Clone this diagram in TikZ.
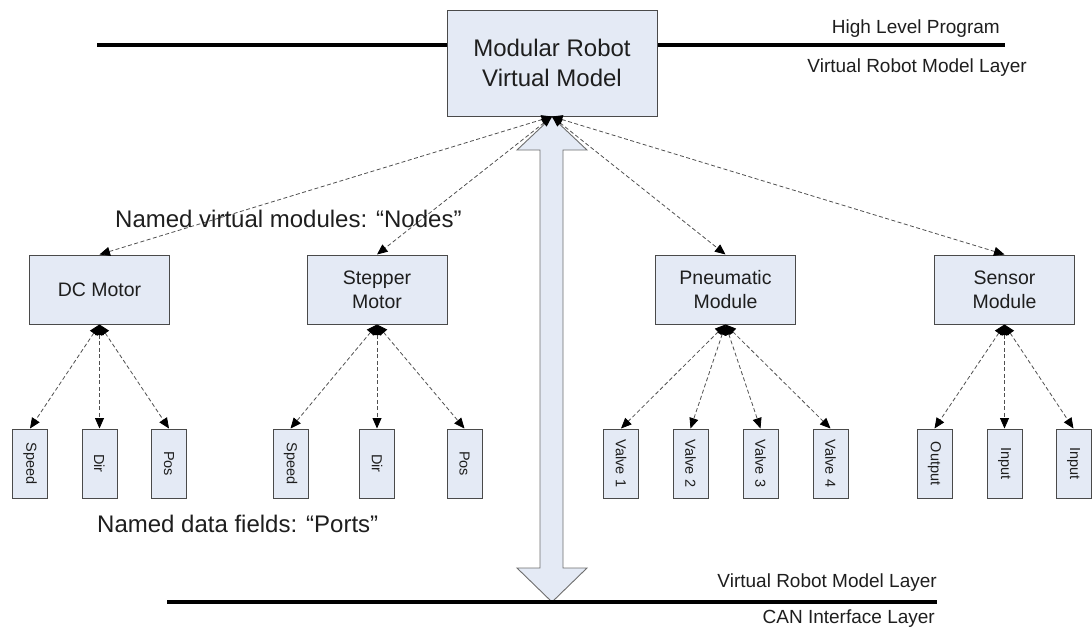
\documentclass[tikz,border=0pt]{standalone}
\usepackage{fontspec}
\setmainfont{Liberation Sans}
\usetikzlibrary{arrows.meta}
\definecolor{boxfill}{HTML}{E4EAF5}
\definecolor{boxline}{HTML}{4A4A4A}
\definecolor{dashline}{HTML}{505050}
\definecolor{txt}{HTML}{1E1E1E}
\begin{document}
\begin{tikzpicture}[x=1pt,y=-1pt,
  every node/.style={text=txt},
  topbox/.style={draw=boxline, line width=1pt, fill=boxfill, minimum width=210pt, minimum height=106pt, align=center, inner sep=0pt, font=\fontsize{24}{30}\selectfont},
  mbox/.style={draw=boxline, line width=1pt, fill=boxfill, minimum width=140pt, minimum height=69pt, align=center, inner sep=0pt, font=\fontsize{19.5}{24}\selectfont},
  pbox/.style={draw=boxline, line width=1pt, fill=boxfill, minimum width=35pt, minimum height=69pt, inner sep=0pt, font=\fontsize{14.5}{16}\selectfont},
  link/.style={draw=dashline, line width=0.8pt, dash pattern=on 4pt off 2.5pt,
    arrows={Triangle[length=10.5pt,width=9pt,color=black]-Triangle[length=10.5pt,width=9pt,color=black]}},
  layerline/.style={line width=4pt, black},
  lab/.style={font=\fontsize{19}{22}\selectfont, anchor=base east, inner sep=0pt},
  biglab/.style={font=\fontsize{24}{28}\selectfont, anchor=base west, inner sep=0pt}]
\useasboundingbox (0,0) rectangle (1092,633);

% layer lines
\coordinate (tl) at (97,45);
\coordinate (tr) at (1005,45);
\draw[layerline] (tl) -- (tr);
\coordinate (bl) at (167,602);
\coordinate (br) at (937,602);

% big double arrow
\draw[draw=boxline!80, fill=boxfill, line width=0.9pt]
  (552,117) -- (587,150) -- (563,150) -- (563,568) -- (587,568) -- (552,602)
  -- (517,568) -- (540,568) -- (540,150) -- (517,150) -- cycle;
\draw[line width=3.5pt, black] (bl) -- (br);

% top box
\node[topbox] (top) at (552,63) {Modular Robot\\Virtual Model};

% modules
\node[mbox] (dc)   at (99.5,289.5)  {DC Motor};
\node[mbox] (step) at (377,289.5)   {Stepper\\Motor};
\node[mbox] (pneu) at (725.5,289.5) {Pneumatic\\Module};
\node[mbox] (sens) at (1004.5,289.5){Sensor\\Module};

% ports
\node[pbox] (dc1) at (30,463.5)   {\rotatebox{-90}{Speed}};
\node[pbox] (dc2) at (99.5,463.5) {\rotatebox{-90}{Dir}};
\node[pbox] (dc3) at (169,463.5)  {\rotatebox{-90}{Pos}};
\node[pbox] (st1) at (290.5,463.5){\rotatebox{-90}{Speed}};
\node[pbox] (st2) at (377,463.5)  {\rotatebox{-90}{Dir}};
\node[pbox] (st3) at (464.5,463.5){\rotatebox{-90}{Pos}};
\node[pbox] (pn1) at (621,463.5)  {\rotatebox{-90}{Valve 1}};
\node[pbox] (pn2) at (690.5,463.5){\rotatebox{-90}{Valve 2}};
\node[pbox] (pn3) at (760.5,463.5){\rotatebox{-90}{Valve 3}};
\node[pbox] (pn4) at (830.5,463.5){\rotatebox{-90}{Valve 4}};
\node[pbox] (se1) at (934.5,463.5){\rotatebox{-90}{Output}};
\node[pbox] (se2) at (1004.5,463.5){\rotatebox{-90}{Input}};
\node[pbox] (se3) at (1073.5,463.5){\rotatebox{-90}{Input}};

% connectors
\foreach \m in {dc,step,pneu,sens} \draw[link] (top.south) -- (\m.north);
\foreach \p in {dc1,dc2,dc3} \draw[link] (dc.south) -- (\p.north);
\foreach \p in {st1,st2,st3} \draw[link] (step.south) -- (\p.north);
\foreach \p in {pn1,pn2,pn3,pn4} \draw[link] (pneu.south) -- (\p.north);
\foreach \p in {se1,se2,se3} \draw[link] (sens.south) -- (\p.north);

% labels
\node[biglab] (nodeslab) at (115,227) {Named virtual modules: “Nodes”};
\node[biglab] (portslab) at (97,532) {Named data fields: “Ports”};
\node[lab] (hlp) at (1000,33) {High Level Program};
\node[lab] (vrm1) at (1027,72) {Virtual Robot Model Layer};
\node[lab] (vrm2) at (937,587) {Virtual Robot Model Layer};
\node[lab] (can) at (935,623) {CAN Interface Layer};
\end{tikzpicture}
\end{document}
